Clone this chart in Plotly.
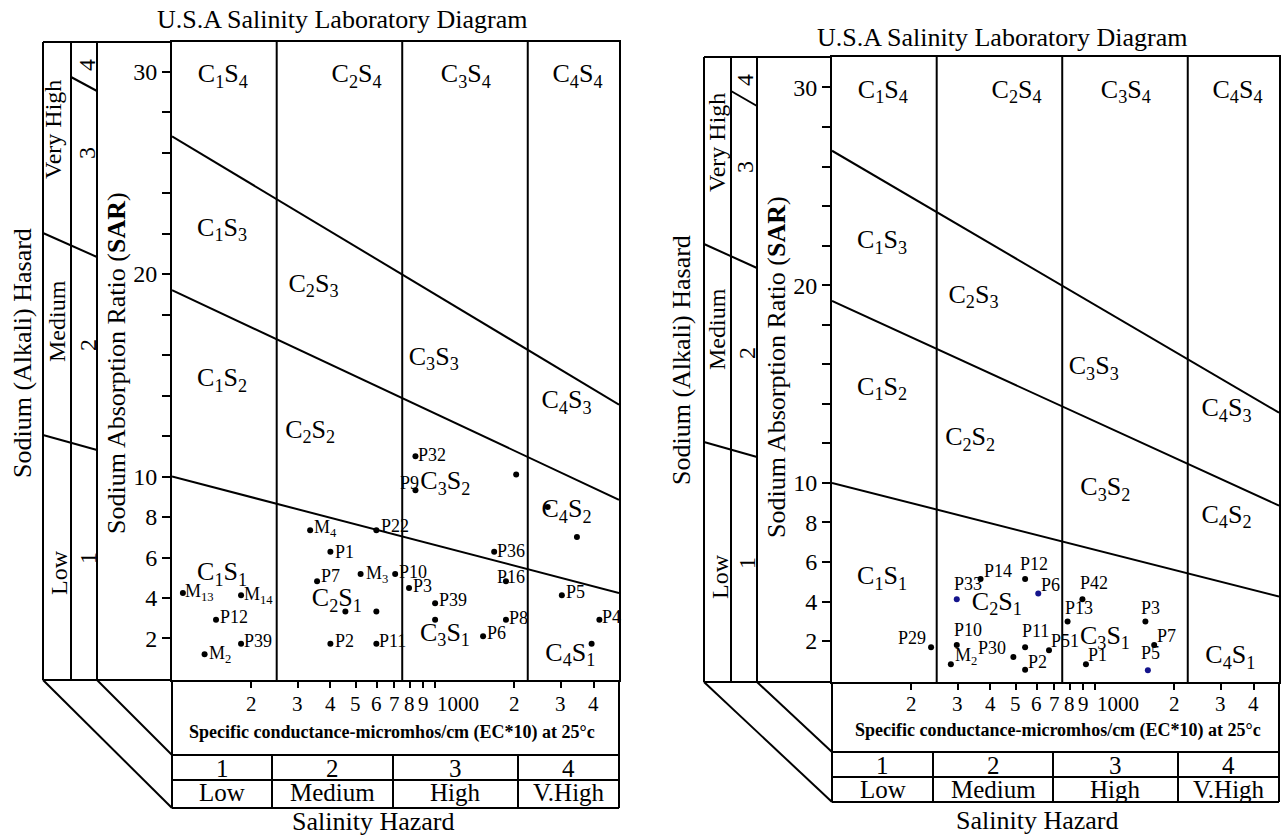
import math
import plotly.graph_objects as go

W, H = 1282, 839
FONT = "Liberation Serif"

# ---------------- data ----------------
# Left diagram: sample labels, EC (micromhos/cm at 25 C) and SAR
left_names = ["M<sub>4</sub>", "P22", "P1", "P36", "M<sub>3</sub>", "P10", "P7", "P16", "P3",
              "M<sub>13</sub>", "M<sub>14</sub>", "P5", "P39", "", "", "P12", "", "P8", "P4",
              "P6", "P39", "P2", "P11", "", "M<sub>2</sub>", "", "", "P9", "P32", ""]
left_ec = [335, 598, 400, 1677, 521, 705, 356, 1859, 796,
           110, 183, 3032, 1000, 456, 598, 147, 1000, 1859, 4211,
           1522, 183, 400, 598, 3934, 133, 2679, 3460, 842, 842, 2033]
left_sar = [7.35, 7.35, 6.28, 6.28, 5.19, 5.19, 4.83, 4.83, 4.49,
            4.25, 4.13, 4.13, 3.74, 3.33, 3.33, 2.93, 2.93, 2.93, 2.93,
            2.11, 1.74, 1.74, 1.74, 1.74, 1.22, 8.50, 7.01, 9.32, 11.0, 10.1]
# label offsets from the dot (pixels, right / down)
left_label_dx = [15, 19, 14, 17, 16, 18, 13, 5, 13,
                 17, 17, 14, 18, 0, 0, 18, 0, 13, 12,
                 13, 17, 14, 16, 0, 15, 0, 0, -6, 17, 0]
left_label_dy = [-2, -4, 0, -1, 1, -2, -5, -4, -2,
                 0, 0, -3, -3, 0, 0, -3, 0, -2, -3,
                 -3, -3, -3, -3, 0, 0, 0, 0, -7, -1, 0]

# Right diagram
right_names = ["P14", "P12", "P6", "P33", "P42", "P13", "P3", "P10", "P7", "P29",
               "P11", "P51", "P30", "M<sub>2</sub>", "P1", "P2", "P5"]
right_ec = [367, 542, 608, 298, 895, 786, 1553, 298, 1677, 238,
            542, 668, 489, 283, 923, 542, 1587]
right_sar = [5.14, 5.14, 4.40, 4.12, 4.12, 2.99, 2.99, 1.80, 1.80, 1.69,
             1.69, 1.53, 1.20, 0.83, 0.83, 0.55, 0.52]
right_colors = ["black", "black", "#14148c", "#14148c", "black", "black", "black", "black", "black", "black",
                "black", "black", "black", "black", "black", "black", "#14148c"]
right_label_dx = [17, 9, 12, 11, 12, 11, 5, 11, 12, -19, 10, 16, -21, 15, 12, 12, 3]
right_label_dy = [-8, -15, -9, -15, -16, -14, -14, -15, -9, -9, -16, -9, -9, -8, -9, -8, -17]

# Classification boundaries
ec_min, ec_max = 100, 5000
ec_class_limits = [250, 750, 2250]
sar_s1_s2 = [10.0, 4.25]
sar_s2_s3 = [19.2, 8.85]
sar_s3_s4 = [26.8, 13.55]

# Region labels
region_names = ["C<sub>1</sub>S<sub>4</sub>", "C<sub>2</sub>S<sub>4</sub>", "C<sub>3</sub>S<sub>4</sub>", "C<sub>4</sub>S<sub>4</sub>",
                "C<sub>1</sub>S<sub>3</sub>", "C<sub>2</sub>S<sub>3</sub>", "C<sub>1</sub>S<sub>2</sub>", "C<sub>2</sub>S<sub>2</sub>",
                "C<sub>3</sub>S<sub>3</sub>", "C<sub>4</sub>S<sub>3</sub>", "C<sub>3</sub>S<sub>2</sub>", "C<sub>4</sub>S<sub>2</sub>",
                "C<sub>1</sub>S<sub>1</sub>", "C<sub>2</sub>S<sub>1</sub>", "C<sub>3</sub>S<sub>1</sub>", "C<sub>4</sub>S<sub>1</sub>"]
region_ec = [156, 503, 1309, 3477, 155, 345, 155, 335, 988, 3159, 1094, 3159, 155, 423, 1090, 3265]
region_sar = [29.8, 29.8, 29.8, 29.8, 22.2, 19.45, 14.78, 12.24, 15.83, 13.7, 9.7, 8.3, 5.2, 3.92, 2.2, 1.21]

x_tick_vals = [200, 300, 400, 500, 600, 700, 800, 900, 1000, 2000, 3000, 4000]
x_tick_text = ["2", "3", "4", "5", "6", "7", "8", "9", "1000", "2", "3", "4"]
y_tick_vals = [2, 4, 6, 8, 10, 12, 14, 16, 18, 20, 22, 24, 26, 28, 30]
y_tick_text = ["2", "4", "6", "8", "10", "", "", "", "", "20", "", "", "", "", "30"]

salinity_nums = ["1", "2", "3", "4"]
salinity_words = ["Low", "Medium", "High", "V.High"]

# ---------------- layout geometry (pixels) ----------------
panels = [
    dict(xa="x", ya="y", fx0=43, c2=71, c3=97, ax=172, rx=619, top=42, bot=680,
         r1=755, r2=780, r3=808, div=[272, 393, 518], lm=(435, 450), mvh=(233, 257), t34=(77, 91),
         yr=[-0.05, 31.46], title=(342, 20), sah=(22, 353), sar=(116, 363),
         low=(59, 573), med=(57, 321), vh=(53, 130), n1=(88, 558), n2=(88, 345), n3=(87, 153), n4=(87, 65),
         spec=(392, 732), rown=768, roww=792, salh=(373, 821), xtl=704,
         names=left_names, ec=left_ec, s=left_sar, dx=left_label_dx, dy=left_label_dy,
         col=["black"] * len(left_ec)),
    dict(xa="x2", ya="y2", fx0=704, c2=731, c3=757, ax=832, rx=1279, top=57, bot=682,
         r1=752, r2=777, r3=802, div=[933, 1053, 1178], lm=(442, 457), mvh=(244, 268), t34=(91, 106),
         yr=[-0.07, 31.54], title=(1002, 38), sah=(681, 360), sar=(776, 367),
         low=(720, 577), med=(717, 329), vh=(717, 143), n1=(747, 563), n2=(747, 353), n3=(745, 167), n4=(745, 80),
         spec=(1058, 730), rown=765, roww=789, salh=(1037, 820), xtl=704,
         names=right_names, ec=right_ec, s=right_sar, dx=right_label_dx, dy=right_label_dy,
         col=right_colors),
]


def fx(x):
    return x / W


def fy(y):
    return 1 - y / H


def seg(x0, y0, x1, y1, w=2):
    return dict(type="line", xref="paper", yref="paper", x0=fx(x0), y0=fy(y0), x1=fx(x1), y1=fy(y1),
                line=dict(color="black", width=w))


def txt(x, y, s, size, angle=0):
    return dict(xref="paper", yref="paper", x=fx(x), y=fy(y), text=s, showarrow=False, textangle=angle,
                xanchor="center", yanchor="middle", font=dict(family=FONT, size=size, color="black"))


fig = go.Figure()
shapes, annos = [], []
layout_axes = {}

for i, p in enumerate(panels):
    xa, ya = p["xa"], p["ya"]
    ylo, yhi = p["yr"]
    for lim in ec_class_limits:
        fig.add_trace(go.Scatter(x=[lim, lim], y=[ylo, yhi], mode="lines", line=dict(color="black", width=2),
                                 xaxis=xa, yaxis=ya, hoverinfo="skip", showlegend=False))
    for ln in (sar_s1_s2, sar_s2_s3, sar_s3_s4):
        fig.add_trace(go.Scatter(x=[ec_min, ec_max], y=ln, mode="lines", line=dict(color="black", width=2),
                                 xaxis=xa, yaxis=ya, hoverinfo="skip", showlegend=False))
    fig.add_trace(go.Scatter(x=region_ec, y=region_sar, mode="text", text=region_names,
                             textfont=dict(family=FONT, size=26, color="black"),
                             xaxis=xa, yaxis=ya, hoverinfo="skip", showlegend=False))
    fig.add_trace(go.Scatter(x=p["ec"], y=p["s"], mode="markers", cliponaxis=False,
                             marker=dict(size=6, color=p["col"]),
                             xaxis=xa, yaxis=ya, showlegend=False))
    for name, e, s, dx, dy in zip(p["names"], p["ec"], p["s"], p["dx"], p["dy"]):
        if not name:
            continue
        annos.append(dict(xref=xa, yref=ya, x=math.log10(e), y=s, text=name, showarrow=False,
                          xanchor="center", yanchor="middle", xshift=dx, yshift=-dy,
                          font=dict(family=FONT, size=18, color="black")))

    xkey = "xaxis" if i == 0 else "xaxis2"
    ykey = "yaxis" if i == 0 else "yaxis2"
    layout_axes[xkey] = dict(type="log", range=[math.log10(ec_min), math.log10(ec_max)],
                             domain=[fx(p["ax"]), fx(p["rx"])], anchor=ya,
                             showline=True, linecolor="black", linewidth=2, mirror=True,
                             ticks="outside", ticklen=6, tickwidth=2, tickcolor="black",
                             tickvals=x_tick_vals, showticklabels=False, showgrid=False, zeroline=False)
    layout_axes[ykey] = dict(range=[ylo, yhi], domain=[fy(p["bot"]), fy(p["top"])], anchor=xa,
                             showline=True, linecolor="black", linewidth=2, mirror=True,
                             ticks="outside", ticklen=8, tickwidth=2, tickcolor="black",
                             tickvals=y_tick_vals, ticktext=y_tick_text,
                             tickfont=dict(family=FONT, size=24, color="black"),
                             showgrid=False, zeroline=False)

    for v, t in zip(x_tick_vals, x_tick_text):
        annos.append(dict(xref=xa, yref="paper", x=math.log10(v), y=fy(p["xtl"]), text=t, showarrow=False,
                          xanchor="left" if t == "1000" else "center", yanchor="middle",
                          font=dict(family=FONT, size=21, color="black")))

    f0, c2, c3, ax, rx, top, bot = p["fx0"], p["c2"], p["c3"], p["ax"], p["rx"], p["top"], p["bot"]
    shapes += [
        seg(f0, top, ax, top), seg(f0, top, f0, bot), seg(c2, top, c2, bot), seg(c3, top, c3, bot),
        seg(f0, bot, ax, bot),
        seg(f0, p["lm"][0], c3, p["lm"][1]), seg(f0, p["mvh"][0], c3, p["mvh"][1]),
        seg(c2, p["t34"][0], c3, p["t34"][1]),
        seg(f0, bot, ax, p["r3"]), seg(c3, bot, ax, p["r1"]),
        seg(ax, bot, ax, p["r3"]), seg(rx, bot, rx, p["r3"]),
        seg(ax, p["r1"], rx, p["r1"]), seg(ax, p["r2"], rx, p["r2"]), seg(ax, p["r3"], rx, p["r3"]),
    ]
    for d in p["div"]:
        shapes.append(seg(d, p["r1"], d, p["r3"]))

    annos += [
        txt(*p["title"], "U.S.A Salinity Laboratory Diagram", 26),
        txt(*p["sah"], "Sodium (Alkali) Hasard", 26, -90),
        txt(*p["sar"], "Sodium Absorption Ratio (<b>SAR</b>)", 26, -90),
        txt(*p["low"], "Low", 24, -90), txt(*p["med"], "Medium", 24, -90), txt(*p["vh"], "Very High", 24, -90),
        txt(*p["n1"], "1", 24, -90), txt(*p["n2"], "2", 24, -90), txt(*p["n3"], "3", 24, -90), txt(*p["n4"], "4", 24, -90),
        txt(*p["spec"], "<b>Specific conductance-micromhos/cm (EC*10) at 25°c</b>", 18),
        txt(*p["salh"], "Salinity Hazard", 26),
    ]
    edges = [ax] + p["div"] + [rx]
    for k in range(4):
        cx = (edges[k] + edges[k + 1]) / 2
        annos.append(txt(cx, p["rown"], salinity_nums[k], 25))
        annos.append(txt(cx, p["roww"], salinity_words[k], 25))

fig.update_layout(width=W, height=H, margin=dict(l=0, r=0, t=0, b=0),
                  paper_bgcolor="white", plot_bgcolor="white", showlegend=False,
                  font=dict(family=FONT, color="black"),
                  shapes=shapes, annotations=annos, **layout_axes)

fig.write_html("out.html", config={"displayModeBar": False},
               post_script="document.body.style.margin='0px';document.body.style.padding='0px';"
                           "document.body.style.overflow='hidden';")
